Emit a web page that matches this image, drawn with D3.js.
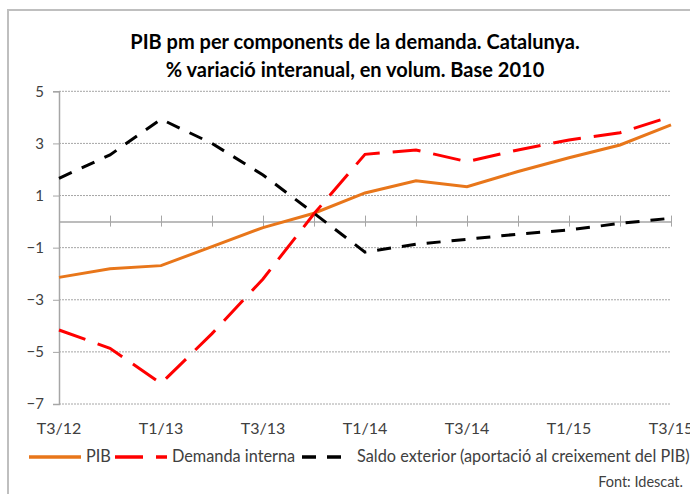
<!DOCTYPE html>
<html>
<head>
<meta charset="utf-8">
<script src="https://cdn.jsdelivr.net/npm/d3@7/dist/d3.min.js"></script>
<style>
  body { margin: 0; background: #fff; }
  text { font-family: Lato, "Open Sans", sans-serif; }
</style>
</head>
<body>
<script>
// quarters, one point per quarter
var quarters = ["T3/12", "T4/12", "T1/13", "T2/13", "T3/13", "T4/13",
    "T1/14", "T2/14", "T3/14", "T4/14", "T1/15", "T2/15", "T3/15"];

// only every second quarter gets a label
var xLabels = ["T3/12", "T1/13", "T3/13", "T1/14", "T3/14", "T1/15", "T3/15"];

var yTicks = [5, 3, 1, -1, -3, -5, -7];

var pib = [-2.14, -1.81, -1.69, -0.96, -0.23, 0.32,
    1.1, 1.57, 1.34, 1.92, 2.45, 2.94, 3.71];

var demanda = [-4.16, -4.86, -6.21, -4.3, -2.2, 0.3,
    2.58, 2.75, 2.3, 2.75, 3.13, 3.41, 4.03];

var saldo = [1.66, 2.56, 3.93, 3.0, 1.79, 0.32,
    -1.17, -0.87, -0.68, -0.48, -0.32, -0.07, 0.13];

var series = [
    {name: "PIB", values: pib, color: "#E8761A", dash: null},
    {name: "Demanda interna", values: demanda, color: "#FF0000", dash: "28,13"},
    {name: "Saldo exterior (aportació al creixement del PIB)", values: saldo, color: "#000000", dash: "14,11"}
];

var width = 690;
var height = 494;

var svg = d3.select("body")
    .append("svg")
    .attr("width", width)
    .attr("height", height);

// chart frame, cut off on the right and bottom like the picture
svg.append("rect")
    .attr("x", 8)
    .attr("y", 10)
    .attr("width", 700)
    .attr("height", 500)
    .attr("fill", "none")
    .attr("stroke", "#bfbfbf")
    .attr("stroke-width", 2);

var x = d3.scalePoint()
    .domain(quarters)
    .range([59, 671]);

var y = d3.scaleLinear()
    .domain([-7, 5])
    .range([404, 91.3]);

// title
svg.append("text")
    .attr("x", 355)
    .attr("y", 49)
    .attr("text-anchor", "middle")
    .style("font-size", "20px")
    .style("font-weight", "bold")
    .text("PIB pm per components de la demanda. Catalunya.");

svg.append("text")
    .attr("x", 355)
    .attr("y", 77)
    .attr("text-anchor", "middle")
    .style("font-size", "20px")
    .style("font-weight", "bold")
    .text("% variació interanual, en volum. Base 2010");

// dotted gridlines
svg.append("g")
    .selectAll("line")
    .data(yTicks)
    .enter()
    .append("line")
    .attr("x1", 59)
    .attr("x2", 671)
    .attr("y1", function(d) { return y(d); })
    .attr("y2", function(d) { return y(d); })
    .attr("stroke", "#a6a6a6")
    .attr("stroke-width", 1)
    .attr("stroke-dasharray", "2,1");

// y axis
var yAxis = d3.axisLeft(y)
    .tickValues(yTicks)
    .tickSize(6)
    .tickPadding(9);

var gy = svg.append("g")
    .attr("transform", "translate(59,0)")
    .call(yAxis);

gy.select(".domain").attr("stroke", "#a6a6a6").attr("stroke-width", 1.5);
gy.selectAll(".tick line").attr("stroke", "#a6a6a6");
gy.selectAll(".tick text")
    .style("font-size", "15px")
    .style("font-family", "Lato, sans-serif")
    .attr("fill", "#404040");

// x axis sits at zero, ticks cross it
var xAxis = d3.axisBottom(x)
    .tickSize(0)
    .tickFormat("");

var gx = svg.append("g")
    .attr("transform", "translate(0," + y(0) + ")")
    .call(xAxis);

gx.select(".domain").attr("stroke", "#a6a6a6").attr("stroke-width", 1.5);
gx.selectAll(".tick").append("line")
    .attr("y1", -6)
    .attr("y2", 5)
    .attr("stroke", "#a6a6a6");

// category labels at the bottom
svg.append("g")
    .selectAll("text")
    .data(xLabels)
    .enter()
    .append("text")
    .attr("x", function(d) { return x(d); })
    .attr("y", 434)
    .attr("text-anchor", "middle")
    .style("font-size", "16px")
    .attr("fill", "#404040")
    .text(function(d) { return d; });

// lines
var line = d3.line()
    .x(function(d, i) { return x(quarters[i]); })
    .y(function(d) { return y(d); });

series.forEach(function(s) {
    svg.append("path")
        .datum(s.values)
        .attr("d", line)
        .attr("fill", "none")
        .attr("stroke", s.color)
        .attr("stroke-width", 3)
        .attr("stroke-dasharray", s.dash);
});

// legend
var legendItems = [
    {x1: 29, x2: 81, tx: 86},
    {x1: 115, x2: 167, tx: 172},
    {x1: 302, x2: 342, tx: 357}
];

var legend = svg.append("g");

series.forEach(function(s, i) {
    var it = legendItems[i];
    legend.append("line")
        .attr("x1", it.x1)
        .attr("x2", it.x2)
        .attr("y1", 457)
        .attr("y2", 457)
        .attr("stroke", s.color)
        .attr("stroke-width", 3.5)
        .attr("stroke-dasharray", s.dash);
    legend.append("text")
        .attr("x", it.tx)
        .attr("y", 462)
        .style("font-size", "16.3px")
        .attr("fill", "#404040")
        .text(s.name);
});

svg.append("text")
    .attr("x", 683)
    .attr("y", 487)
    .attr("text-anchor", "end")
    .style("font-size", "14.5px")
    .attr("fill", "#404040")
    .text("Font: Idescat.");
</script>
</body>
</html>
